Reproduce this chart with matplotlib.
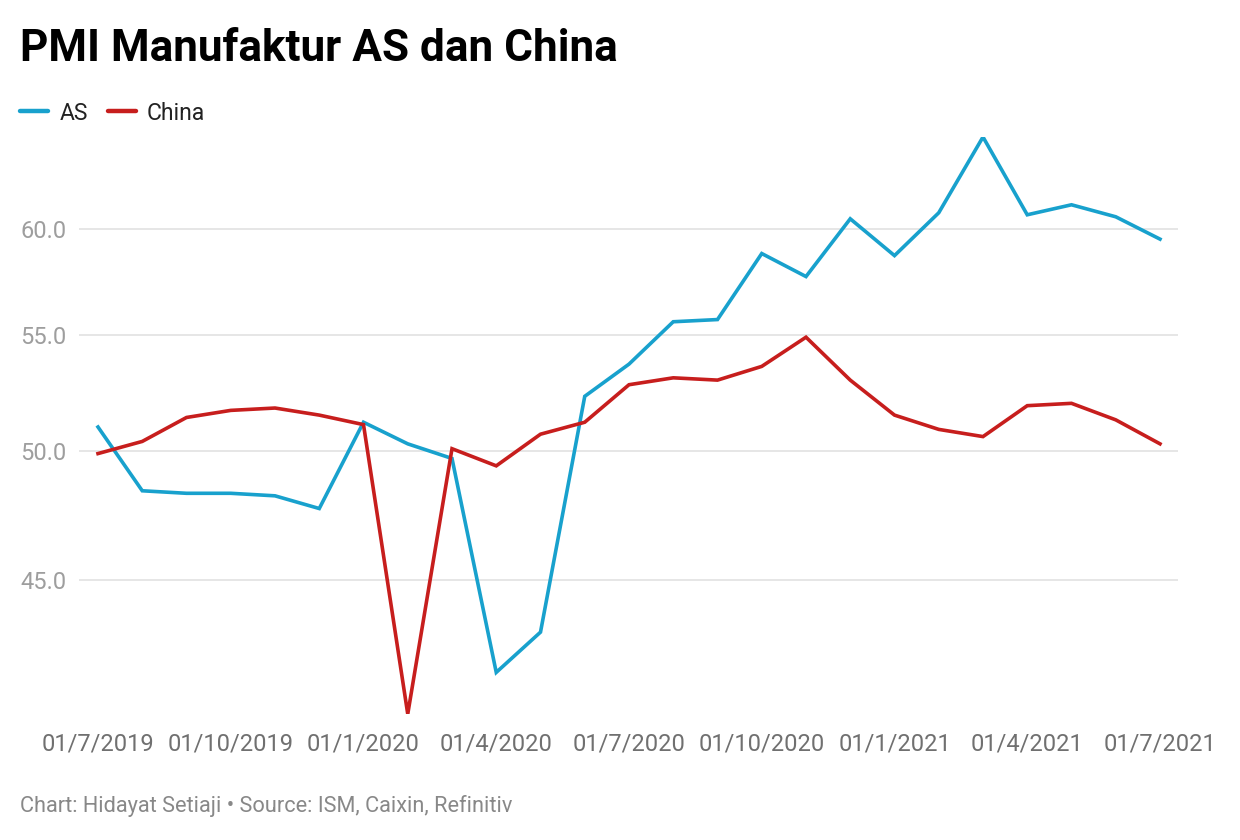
import matplotlib
matplotlib.use("Agg")
import matplotlib.pyplot as plt
from matplotlib.ticker import FixedLocator, NullLocator, FixedFormatter
from matplotlib.lines import Line2D

plt.rcParams['font.family'] = ['Roboto', 'DejaVu Sans']

dates = ["01/7/2019", "01/8/2019", "01/9/2019", "01/10/2019", "01/11/2019", "01/12/2019",
         "01/1/2020", "01/2/2020", "01/3/2020", "01/4/2020", "01/5/2020", "01/6/2020",
         "01/7/2020", "01/8/2020", "01/9/2020", "01/10/2020", "01/11/2020", "01/12/2020",
         "01/1/2021", "01/2/2021", "01/3/2021", "01/4/2021", "01/5/2021", "01/6/2021",
         "01/7/2021"]
as_pmi = [51.0, 48.4, 48.3, 48.3, 48.2, 47.7, 51.2, 50.3, 49.7, 41.7, 43.1, 52.3,
          53.7, 55.6, 55.7, 58.8, 57.7, 60.5, 58.7, 60.8, 64.7, 60.7, 61.2, 60.6, 59.5]
china_pmi = [49.9, 50.4, 51.4, 51.7, 51.8, 51.5, 51.1, 40.3, 50.1, 49.4, 50.7, 51.2,
             52.8, 53.1, 53.0, 53.6, 54.9, 53.0, 51.5, 50.9, 50.6, 51.9, 52.0, 51.3, 50.3]
y_ticks = [45.0, 50.0, 55.0, 60.0]
x_tick_idx = [0, 3, 6, 9, 12, 15, 18, 21, 24]

blue = "#18a1cd"
red = "#c71e1d"

fig = plt.figure(figsize=(12.4, 8.4), dpi=100)
ax = fig.add_axes([79/1240, (840-714)/840, 1099/1240, (714-137)/840])

x = list(range(len(dates)))
ax.plot(x, as_pmi, color=blue, lw=2.6, solid_joinstyle='miter', zorder=3)
ax.plot(x, china_pmi, color=red, lw=2.6, solid_joinstyle='miter', zorder=3)

ax.set_yscale('log')
ax.set_ylim(min(as_pmi + china_pmi), max(as_pmi + china_pmi))
ax.set_xlim(-(98-79)/44.25, 24 + 18/44.25)

ax.yaxis.set_major_locator(FixedLocator(y_ticks))
ax.yaxis.set_minor_locator(NullLocator())
ax.yaxis.set_major_formatter(FixedFormatter([f"{v:.1f}" for v in y_ticks]))
ax.set_xticks(x_tick_idx)
ax.set_xticklabels([dates[i] for i in x_tick_idx])

ax.grid(axis='y', color='#e2e2e2', lw=1.2, zorder=0)
ax.tick_params(axis='y', length=0, pad=9, labelsize=17, labelcolor='#9e9e9e')
ax.tick_params(axis='x', length=0, pad=13, labelsize=17, labelcolor='#707070')
for s in ax.spines.values():
    s.set_visible(False)

fig.text(20/1240, 1 - 49/840, "PMI Manufaktur AS dan China", fontsize=31.8, fontweight='bold',
         color='#000000', ha='left', va='center')

# legend
ly = 1 - 113/840
fig.add_artist(Line2D([20/1240, 48/1240], [1 - 111/840, 1 - 111/840], color=blue, lw=3.2, solid_capstyle='round'))
fig.text(60/1240, ly, "AS", fontsize=16.5, color='#222222', ha='left', va='center')
fig.add_artist(Line2D([108/1240, 136/1240], [1 - 111/840, 1 - 111/840], color=red, lw=3.2, solid_capstyle='round'))
fig.text(147/1240, ly, "China", fontsize=16.5, color='#222222', ha='left', va='center')

fig.text(20/1240, 1 - 806/840, "Chart: Hidayat Setiaji \u2022 Source: ISM, Caixin, Refinitiv",
         fontsize=15.7, color='#888888', ha='left', va='center')

fig.savefig("out.png", dpi=100, facecolor='white')
